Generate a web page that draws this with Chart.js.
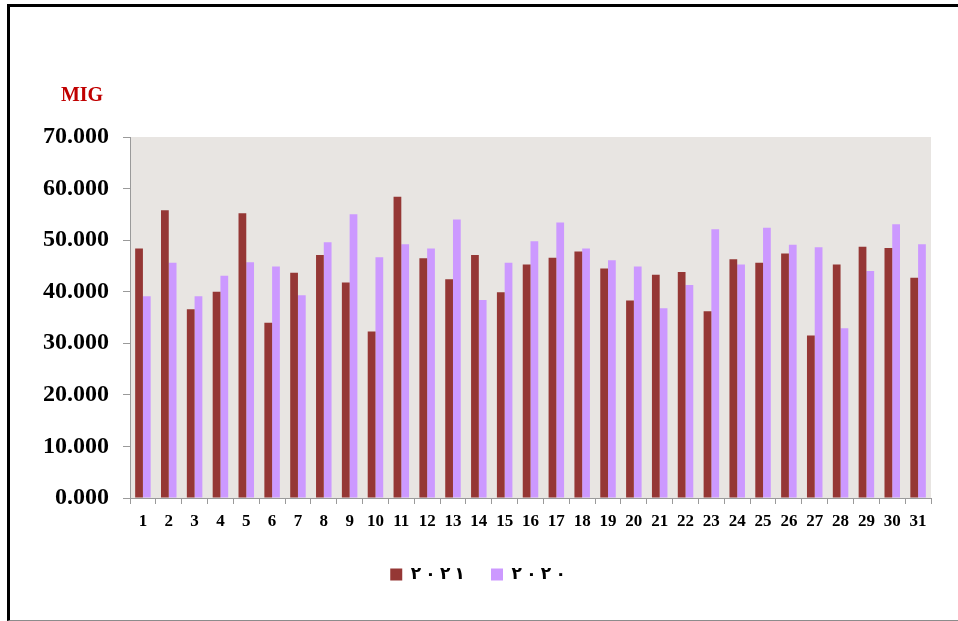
<!DOCTYPE html>
<html>
<head>
<meta charset="utf-8">
<script src="https://cdn.jsdelivr.net/npm/chart.js@4.4.0/dist/chart.umd.min.js"></script>
<style>
  html, body { margin: 0; padding: 0; background: #fff; }
  #wrap { position: relative; width: 958px; height: 621px; overflow: hidden; }
  #frame {
    position: absolute; left: 7px; top: 4px; width: 980px; height: 613px;
    border-top: 3px solid #000; border-left: 3px solid #000; border-bottom: 1px solid #8c8c8c;
    pointer-events: none;
  }
  canvas { position: absolute; left: 0; top: 0; }
</style>
</head>
<body>
<div id="wrap">
  <canvas id="chartMig" width="958" height="621"></canvas>
  <div id="frame"></div>
</div>
<script>
const days = ['1', '2', '3', '4', '5', '6', '7', '8', '9', '10', '11', '12', '13', '14', '15', '16',
  '17', '18', '19', '20', '21', '22', '23', '24', '25', '26', '27', '28', '29', '30', '31'];
const values2021 = [48.4, 55.8, 36.6, 40.0, 55.2, 34.0, 43.7, 47.1, 41.8, 32.3, 58.4, 46.5, 42.4, 47.1, 39.9, 45.3,
  46.6, 47.8, 44.5, 38.3, 43.3, 43.8, 36.2, 46.3, 45.6, 47.4, 31.5, 45.3, 48.7, 48.5, 42.7];
const values2020 = [39.1, 45.6, 39.1, 43.1, 45.7, 44.9, 39.3, 49.6, 55.0, 46.7, 49.2, 48.4, 54.0, 38.4, 45.6, 49.8,
  53.4, 48.4, 46.1, 44.9, 36.8, 41.3, 52.1, 45.3, 52.4, 49.1, 48.6, 32.9, 44.0, 53.1, 49.2];
const seriesNames = ['٢٠٢١', '٢٠٢٠'];
const unitLabel = 'MIG';

const serif = "'Liberation Serif', 'Times New Roman', 'DejaVu Sans', serif";

// plot background + unit label
const plotDecor = {
  id: 'plotDecor',
  beforeDraw(chart) {
    const { ctx, chartArea } = chart;
    ctx.save();
    ctx.fillStyle = '#e8e5e2';
    ctx.fillRect(chartArea.left, chartArea.top, chartArea.right - chartArea.left, chartArea.bottom - chartArea.top);
    ctx.restore();
  },
  afterDraw(chart) {
    const { ctx, chartArea } = chart;
    ctx.save();
    ctx.fillStyle = '#c00000';
    ctx.font = 'bold 20px ' + serif;
    ctx.textAlign = 'center';
    ctx.textBaseline = 'middle';
    ctx.fillText(unitLabel, chartArea.left - 48, chartArea.top - 41);
    ctx.restore();
  }
};

new Chart(document.getElementById('chartMig').getContext('2d'), {
  type: 'bar',
  data: {
    labels: days,
    datasets: [{
      label: seriesNames[0],
      data: values2021,
      backgroundColor: '#953735',
      borderWidth: 0
    }, {
      label: seriesNames[1],
      data: values2020,
      backgroundColor: '#cc99ff',
      borderWidth: 0
    }]
  },
  options: {
    responsive: false,
    animation: false,
    layout: { padding: { left: 25, right: 27, top: 137, bottom: 28 } },
    datasets: { bar: { categoryPercentage: 0.6, barPercentage: 1.0 } },
    plugins: {
      tooltip: { enabled: false },
      legend: {
        position: 'bottom',
        labels: {
          color: '#000',
          boxWidth: 12,
          boxHeight: 12,
          padding: 26,
          font: { family: serif, size: 17, weight: 'bold' },
          generateLabels(chart) {
            const items = Chart.defaults.plugins.legend.labels.generateLabels(chart);
            items.forEach(it => { it.text = it.text.split('').join('\u200E '); it.lineWidth = 0; });
            return items;
          }
        }
      }
    },
    scales: {
      x: {
        afterFit(scale) { scale.height = 42; },
        border: { color: '#9a9a9a', width: 1 },
        grid: { offset: true, drawOnChartArea: false, drawTicks: true, tickLength: 6, color: '#9a9a9a' },
        ticks: { color: '#000', padding: 7, maxRotation: 0, font: { family: serif, size: 17, weight: 'bold' } }
      },
      y: {
        min: 0,
        max: 70,
        afterFit(scale) { scale.width = 105; },
        border: { color: '#9a9a9a', width: 1 },
        grid: { drawOnChartArea: false, drawTicks: true, tickLength: 7, color: '#9a9a9a' },
        ticks: {
          stepSize: 10,
          color: '#000',
          padding: 14,
          font: { family: serif, size: 24, weight: 'bold' },
          callback: v => v.toFixed(3)
        }
      }
    }
  },
  plugins: [plotDecor]
});
</script>
</body>
</html>
